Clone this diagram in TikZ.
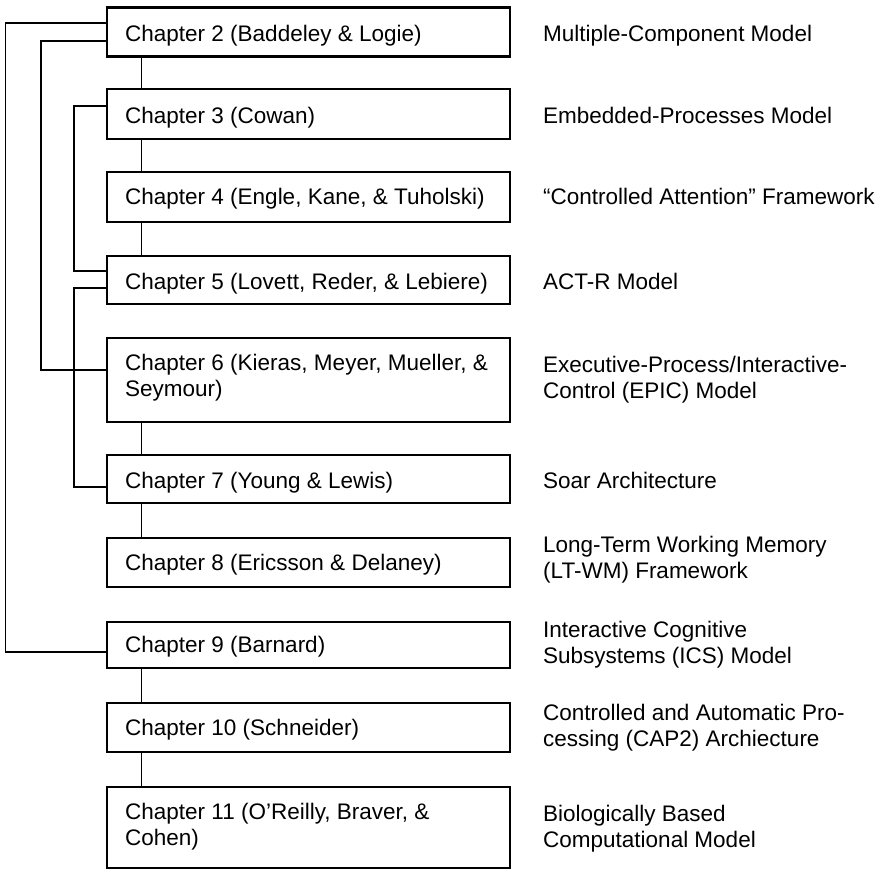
\documentclass[tikz,border=0pt]{standalone}
\usepackage{fontspec}
\setmainfont{Liberation Sans}
\begin{document}
\begin{tikzpicture}[x=1pt,y=-1pt,
  box/.style={draw, line width=2.7pt, minimum width=403pt, inner sep=0pt},
  lbl/.style={anchor=base west, align=left, inner sep=0pt, font=\fontsize{22.5}{26}\selectfont},
  lbltwo/.style={anchor=west, align=left, inner sep=0pt, font=\fontsize{22.5}{26}\selectfont},
  link/.style={line width=1.8pt}]
\useasboundingbox (0,0) rectangle (878,871);
% boxes
\node[box, minimum height=49pt] (c2) at (308.5,32) {};
\node[box, minimum height=50pt] (c3) at (308.5,114) {};
\node[box, minimum height=50pt] (c4) at (308.5,197) {};
\node[box, minimum height=48pt] (c5) at (308.5,280) {};
\node[box, minimum height=84pt] (c6) at (308.5,380) {};
\node[box, minimum height=48pt] (c7) at (308.5,479) {};
\node[box, minimum height=49pt] (c8) at (308.5,562.5) {};
\node[box, minimum height=46pt] (c9) at (308.5,645) {};
\node[box, minimum height=49pt] (c10) at (308.5,727.5) {};
\node[box, minimum height=81pt] (c11) at (308.5,827.5) {};
% box texts
\node[lbl] (t2) at (125,41.5) {Chapter 2 (Baddeley \& Logie)};
\node[lbl] (t3) at (125,123) {Chapter 3 (Cowan)};
\node[lbl] (t4) at (125,204) {Chapter 4 (Engle, Kane, \& Tuholski)};
\node[lbl] (t5) at (125,289) {Chapter 5 (Lovett, Reder, \& Lebiere)};
\node[lbltwo] (t6) at (125,378) {Chapter 6 (Kieras, Meyer, Mueller, \&\\Seymour)};
\node[lbl] (t7) at (125,488) {Chapter 7 (Young \& Lewis)};
\node[lbl] (t8) at (125,570) {Chapter 8 (Ericsson \& Delaney)};
\node[lbl] (t9) at (125,652) {Chapter 9 (Barnard)};
\node[lbl] (t10) at (125,735) {Chapter 10 (Schneider)};
\node[lbltwo] (t11) at (125,826.5) {Chapter 11 (O’Reilly, Braver, \&\\Cohen)};
% model texts
\node[lbl] (m2) at (543,41.5) {Multiple-Component Model};
\node[lbl] (m3) at (543,123) {Embedded-Processes Model};
\node[lbl] (m4) at (543,204) {“Controlled Attention” Framework};
\node[lbl] (m5) at (543,289) {ACT-R Model};
\node[lbltwo] (m6) at (543,380) {Executive-Process/Interactive-\\Control (EPIC) Model};
\node[lbl] (m7) at (543,488) {Soar Architecture};
\node[lbltwo] (m8) at (543,559.5) {Long-Term Working Memory\\(LT-WM) Framework};
\node[lbltwo] (m9) at (543,645) {Interactive Cognitive\\Subsystems (ICS) Model};
\node[lbltwo] (m10) at (543,727.5) {Controlled and Automatic Pro-\\cessing (CAP2) Archiecture};
\node[lbltwo] (m11) at (543,829) {Biologically Based\\Computational Model};
% left connectors
\draw[link] (c2.west |- 0,23) -| (5.5,652) -- (c9.west |- 0,652);
\draw[link] (c2.west |- 0,41) -| (41,370) -- (c6.west |- 0,370);
\draw[link] (c3.west |- 0,106) -| (74,271) -- (c5.west |- 0,271);
\draw[link] (c5.west |- 0,288) -| (74,487) -- (c7.west |- 0,487);
% vertical chain
\draw[link] (c2.south -| 141.5,0) -- (c3.north -| 141.5,0);
\draw[link] (c3.south -| 141.5,0) -- (c4.north -| 141.5,0);
\draw[link] (c4.south -| 141.5,0) -- (c5.north -| 141.5,0);
\draw[link] (c6.south -| 141.5,0) -- (c7.north -| 141.5,0);
\draw[link] (c7.south -| 141.5,0) -- (c8.north -| 141.5,0);
\draw[link] (c9.south -| 141.5,0) -- (c10.north -| 141.5,0);
\draw[link] (c10.south -| 141.5,0) -- (c11.north -| 141.5,0);
\end{tikzpicture}
\end{document}
